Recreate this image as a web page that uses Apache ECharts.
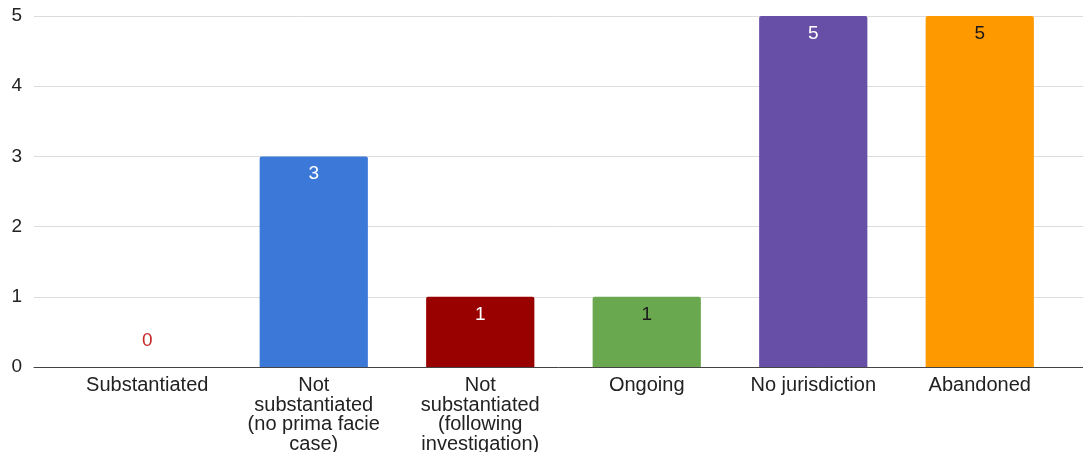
<!DOCTYPE html>
<html>
<head>
<meta charset="utf-8">
<script src="https://cdn.jsdelivr.net/npm/echarts@6/dist/echarts.min.js"></script>
<style>
  html, body { margin: 0; padding: 0; background: #fff; }
  #chart { width: 1083px; height: 452px; }
</style>
</head>
<body>
<div id="chart"></div>
<script>
const categories = [
  'Substantiated',
  'Not\nsubstantiated\n(no prima facie\ncase)',
  'Not\nsubstantiated\n(following\ninvestigation)',
  'Ongoing',
  'No jurisdiction',
  'Abandoned'
];
const counts = [0, 3, 1, 1, 5, 5];
const barColors = ['#cc0000', '#3c78d8', '#990000', '#6aa84f', '#674ea7', '#ff9900'];
const labelColors = ['#c62828', '#ffffff', '#ffffff', '#1a1a1a', '#ffffff', '#1a1a1a'];
const yTicks = [0, 1, 2, 3, 4, 5];

const FONT = '"Liberation Sans", Arial, sans-serif';
const yMax = yTicks[yTicks.length - 1];

const chart = echarts.init(document.getElementById('chart'), null, { renderer: 'canvas' });

chart.setOption({
  animation: false,
  textStyle: { fontFamily: FONT },
  grid: [
    // frame grid: gridlines, value labels and baseline
    { left: 34, right: 0, top: 16, bottom: 85, containLabel: false, outerBoundsMode: 'none' },
    // bar grid
    { left: 64, right: 20, top: 16, bottom: 85, containLabel: false, outerBoundsMode: 'none' }
  ],
  xAxis: [
    {
      gridIndex: 0, type: 'value', min: 0, max: 1,
      axisLine: { show: true, onZero: false, lineStyle: { color: '#444444', width: 1 } },
      axisTick: { show: false }, axisLabel: { show: false }, splitLine: { show: false }
    },
    {
      gridIndex: 1, type: 'category', data: categories,
      axisLine: { show: false }, axisTick: { show: false },
      axisLabel: {
        interval: 0, color: '#222222', fontSize: 20, lineHeight: 19.5,
        fontFamily: FONT, margin: 9, align: 'center'
      }
    }
  ],
  yAxis: [
    {
      gridIndex: 0, type: 'value', min: 0, max: yMax, interval: 1,
      axisLine: { show: false }, axisTick: { show: false },
      axisLabel: { color: '#222222', fontSize: 19, fontFamily: FONT, margin: 12 },
      splitLine: { show: true, lineStyle: { color: '#dcdcdc', width: 1 } }
    },
    {
      gridIndex: 1, type: 'value', min: 0, max: yMax, interval: 1,
      axisLine: { show: false }, axisTick: { show: false },
      axisLabel: { show: false }, splitLine: { show: false }
    }
  ],
  series: [{
    type: 'bar',
    xAxisIndex: 1, yAxisIndex: 1,
    barWidth: '65%',
    data: counts.map((v, i) => ({
      value: v,
      itemStyle: { color: barColors[i], borderRadius: [2, 2, 0, 0] },
      label: v === 0
        ? { position: 'top', distance: 17, color: labelColors[i] }
        : { position: 'insideTop', distance: 8, color: labelColors[i] }
    })),
    label: { show: true, fontSize: 19, fontFamily: FONT }
  }]
});
</script>
</body>
</html>
